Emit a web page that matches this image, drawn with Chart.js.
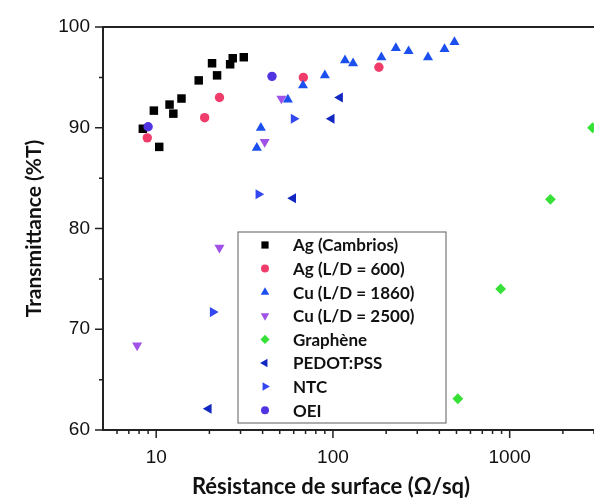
<!DOCTYPE html>
<html>
<head>
<meta charset="utf-8">
<script src="https://cdn.jsdelivr.net/npm/chart.js@4.4.0/dist/chart.umd.min.js"></script>
<style>
  html, body { margin: 0; padding: 0; background: #fff; }
  #wrap { width: 594px; height: 503px; }
</style>
</head>
<body>
<div id="wrap"><canvas id="chart" width="594" height="503"></canvas></div>
<script>
// series (sheet resistance in ohm/sq, transmittance in %T)
const seriesLabels = ["Ag (Cambrios)", "Ag (L/D = 600)", "Cu (L/D = 1860)", "Cu (L/D = 2500)", "Graphène", "PEDOT:PSS", "NTC", "OEI"];

const agCambriosR = [8.4, 9.7, 10.4, 11.9, 12.5, 13.9, 17.4, 20.7, 22.1, 26.2, 27.1, 31.3];
const agCambriosT = [89.9, 91.7, 88.1, 92.3, 91.4, 92.9, 94.7, 96.4, 95.2, 96.3, 96.9, 97.0];

const agLd600R = [8.9, 18.8, 22.8, 68, 182];
const agLd600T = [89.0, 91.0, 93.0, 95.0, 96.0];

const cuLd1860R = [37.1, 39.1, 55.6, 67.7, 90, 117, 130, 188, 227, 268, 345, 428, 487];
const cuLd1860T = [88.0, 90.0, 92.8, 94.2, 95.2, 96.7, 96.4, 97.0, 97.9, 97.6, 97.0, 97.8, 98.5];

const cuLd2500R = [51.1, 41.1, 22.8, 7.8];
const cuLd2500T = [92.9, 88.6, 78.1, 68.4];

const grapheneR = [509, 889, 1700, 2945];
const grapheneT = [63.1, 74.0, 82.9, 90.0];

const pedotR = [109.6, 98.3, 59.5, 19.8];
const pedotT = [93.0, 90.9, 83.0, 62.1];

const ntcR = [60, 37.9, 20.9];
const ntcT = [90.9, 83.4, 71.7];

const oeiR = [9.0, 45.2];
const oeiT = [90.1, 95.1];

// axis ticks
const xTicks = [6, 7, 8, 9, 10, 20, 30, 40, 50, 60, 70, 80, 90, 100, 200, 300, 400, 500, 600, 700, 800, 900, 1000, 2000, 3000];
const xLabels = [10, 100, 1000];
const yTicks = [60, 65, 70, 75, 80, 85, 90, 95, 100];
const yLabels = [60, 70, 80, 90, 100];

const xTitle = "Résistance de surface (Ω/sq)";
const yTitle = "Transmittance (%T)";

function pts(xs, ys) {
  return xs.map((x, i) => ({ x: x, y: ys[i] }));
}

const styles = [
  { color: "#000000", pointStyle: "rect", radius: 6, rotation: 0 },
  { color: "#f03c6a", pointStyle: "circle", radius: 4.7, rotation: 0 },
  { color: "#1c50ee", pointStyle: "triangle", radius: 5.8, rotation: 0 },
  { color: "#a052e6", pointStyle: "triangle", radius: 5.8, rotation: 180 },
  { color: "#36e036", pointStyle: "rectRot", radius: 5.4, rotation: 0 },
  { color: "#1226c2", pointStyle: "triangle", radius: 5.8, rotation: -90 },
  { color: "#3448f2", pointStyle: "triangle", radius: 5.8, rotation: 90 },
  { color: "#5034e2", pointStyle: "circle", radius: 4.7, rotation: 0 },
];

const seriesData = [
  pts(agCambriosR, agCambriosT),
  pts(agLd600R, agLd600T),
  pts(cuLd1860R, cuLd1860T),
  pts(cuLd2500R, cuLd2500T),
  pts(grapheneR, grapheneT),
  pts(pedotR, pedotT),
  pts(ntcR, ntcT),
  pts(oeiR, oeiT),
];

const datasets = seriesLabels.map((label, i) => ({
  label: label,
  data: seriesData[i],
  backgroundColor: styles[i].color,
  borderColor: styles[i].color,
  borderWidth: 0,
  pointStyle: styles[i].pointStyle,
  pointRadius: styles[i].radius,
  pointHoverRadius: styles[i].radius,
  rotation: styles[i].rotation,
  order: seriesLabels.length - i, // later series on top
  clip: false,
}));

// frame top line, tick marks (major longer than minor), x title
const framePlugin = {
  id: "frame",
  afterDraw(chart) {
    const ctx = chart.ctx;
    const ca = chart.chartArea;
    const xs = chart.scales.x;
    const ys = chart.scales.y;
    ctx.save();
    ctx.strokeStyle = "#222";
    ctx.lineWidth = 2;
    ctx.beginPath();
    ctx.moveTo(ca.left - 1, ca.top);
    ctx.lineTo(chart.width, ca.top);
    ctx.moveTo(ca.right, ca.bottom);
    ctx.lineTo(chart.width, ca.bottom);
    ctx.stroke();

    ctx.lineWidth = 1.5;
    ctx.beginPath();
    xs.ticks.forEach(t => {
      const px = xs.getPixelForValue(t.value);
      const len = xLabels.includes(t.value) ? 8 : 4;
      ctx.moveTo(px, ca.bottom);
      ctx.lineTo(px, ca.bottom + len);
    });
    ys.ticks.forEach(t => {
      const py = ys.getPixelForValue(t.value);
      const len = yLabels.includes(t.value) ? 8 : 4;
      ctx.moveTo(ca.left, py);
      ctx.lineTo(ca.left - len, py);
    });
    ctx.stroke();

    // x title sits a bit left of the visible plot centre (figure is cropped on the right)
    ctx.fillStyle = "#111";
    ctx.font = "bold 22px Lato, 'Open Sans', sans-serif";
    ctx.textAlign = "center";
    ctx.textBaseline = "middle";
    ctx.fillText(xTitle, ca.left + 228, chart.height - 16);
    ctx.restore();
  },
};

// legend box inside the plot area
const boxLegendPlugin = {
  id: "boxLegend",
  afterDatasetsDraw(chart) {
    const ctx = chart.ctx;
    const ca = chart.chartArea;
    const left = ca.left + 135;
    const top = ca.top + 205;
    const w = 208;
    const h = 191;
    const rowH = 23.6;
    ctx.save();
    ctx.fillStyle = "#fff";
    ctx.fillRect(left, top, w, h);
    ctx.strokeStyle = "#777";
    ctx.lineWidth = 1.2;
    ctx.strokeRect(left, top, w, h);
    ctx.font = "bold 17px Lato, 'Open Sans', sans-serif";
    ctx.textBaseline = "middle";
    chart.data.datasets.forEach((ds, i) => {
      const cy = top + 13 + i * rowH;
      ctx.fillStyle = ds.backgroundColor;
      ctx.strokeStyle = ds.backgroundColor;
      Chart.helpers.drawPoint(ctx, {
        pointStyle: ds.pointStyle,
        rotation: ds.rotation,
        radius: ds.pointRadius * 0.85,
        borderWidth: 0,
      }, left + 27, cy);
      ctx.fillStyle = "#111";
      ctx.fillText(ds.label, left + 55, cy + 1);
    });
    ctx.restore();
  },
};

new Chart(document.getElementById("chart"), {
  type: "scatter",
  data: { datasets: datasets },
  options: {
    responsive: false,
    animation: false,
    devicePixelRatio: 1,
    layout: { autoPadding: false, padding: { top: 27, right: 0, bottom: 0, left: 0 } },
    plugins: { legend: { display: false }, tooltip: { enabled: false } },
    scales: {
      x: {
        type: "logarithmic",
        min: 5,
        max: 3000,
        afterBuildTicks: (scale) => {
          scale.ticks = xTicks.map(v => ({ value: v, major: xLabels.includes(v) }));
        },
        afterFit: (scale) => {
          scale.height = 73;
          scale.paddingLeft = 0;
          scale.paddingRight = 0;
        },
        grid: { drawOnChartArea: false, tickLength: 8, tickColor: "rgba(0,0,0,0)" },
        border: { display: true, color: "#222", width: 2 },
        ticks: {
          autoSkip: false,
          maxRotation: 0,
          padding: 8,
          color: "#111",
          font: { family: "'Liberation Sans', Arial, sans-serif", size: 19 },
          callback: (value) => xLabels.includes(value) ? String(value) : "",
        },
        title: { display: false, text: xTitle },
      },
      y: {
        min: 60,
        max: 100,
        afterBuildTicks: (scale) => {
          scale.ticks = yTicks.map(v => ({ value: v, major: yLabels.includes(v) }));
        },
        afterFit: (scale) => { scale.width = 103; },
        grid: { drawOnChartArea: false, tickLength: 8, tickColor: "rgba(0,0,0,0)" },
        border: { display: true, color: "#222", width: 2 },
        ticks: {
          padding: 5,
          color: "#111",
          font: { family: "'Liberation Sans', Arial, sans-serif", size: 19 },
          callback: (value) => yLabels.includes(value) ? String(value) : "",
        },
        title: {
          display: true,
          text: yTitle,
          color: "#111",
          font: { family: "Lato, 'Open Sans', sans-serif", size: 21, weight: "bold" },
          padding: { top: 22, bottom: 0 },
        },
      },
    },
  },
  plugins: [framePlugin, boxLegendPlugin],
});
</script>
</body>
</html>
